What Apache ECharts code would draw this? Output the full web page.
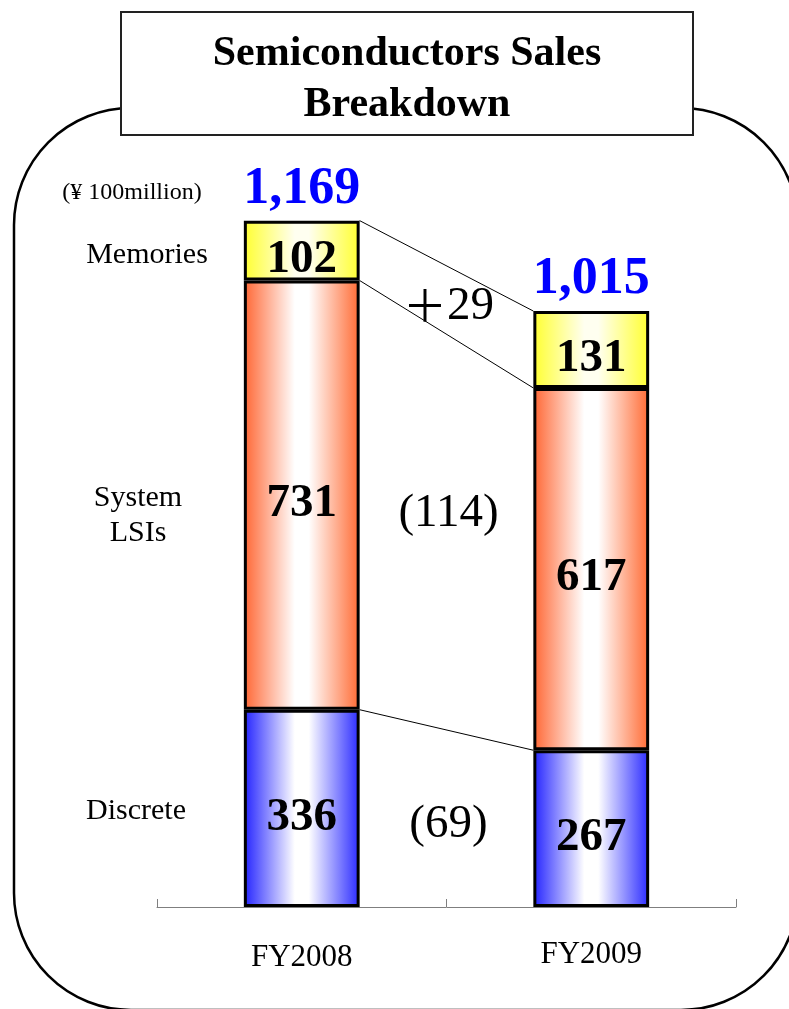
<!DOCTYPE html>
<html>
<head>
<meta charset="utf-8">
<script src="https://cdn.jsdelivr.net/npm/echarts@6/dist/echarts.min.js"></script>
<style>
  html, body { margin: 0; padding: 0; background: #ffffff; }
  #chart { width: 789px; height: 1009px; }
</style>
</head>
<body>
<div id="chart"></div>
<script>
// Fiscal years and sales by product line (unit: ¥100 million)
const years = ['FY2008', 'FY2009'];
const segmentNames = ['Discrete', 'System LSIs', 'Memories'];
const discrete = [336, 267];
const systemLSIs = [731, 617];
const memories = [102, 131];
const unitLabel = '(¥ 100million)';
const titleText = 'Semiconductors Sales\nBreakdown';

const segments = [discrete, systemLSIs, memories];
const totals = years.map((_, i) => segments.reduce((s, arr) => s + arr[i], 0));

// Layout / style constants
const SERIF = '"Liberation Serif", "Times New Roman", serif';
const CJK = '"Noto Sans CJK JP", "Noto Sans CJK SC", sans-serif';
const BAR_RATIO = 0.40;
const GRID = { left: 157, right: 53, top: 85, bottom: 102 };
const Y_MAX = 1400;
const diffNudgeY = [6, -18, 7];
const sideLabelNudgeY = [3, 21, 5];
const sideLabelX = [136, 138, 147];

const gradients = [
  ['#2222ff', '#2a2aff'],
  ['#ff6633', '#ff6a33'],
  ['#ffff30', '#ffff30']
];
const gradientCenter = ['#ffffff', '#ffffff', '#fffff0'];

function fillFor(k) {
  const c = gradients[k];
  return new echarts.graphic.LinearGradient(0, 0, 1, 0, [
    { offset: 0, color: c[0] },
    { offset: 0.44, color: gradientCenter[k] },
    { offset: 0.56, color: gradientCenter[k] },
    { offset: 1, color: c[1] }
  ]);
}

function fmtDiff(d) {
  return d >= 0 ? '{p|＋}' + d : '(' + Math.abs(d) + ')';
}

// Per-segment cumulative bounds for the connector lines and change labels
const connectorData = segments.map((arr, k) => {
  const below = segments.slice(0, k);
  const b1 = below.reduce((s, a) => s + a[0], 0);
  const b2 = below.reduce((s, a) => s + a[1], 0);
  return [0, b1, b1 + arr[0], b2, b2 + arr[1], arr[1] - arr[0], k];
});

const chart = echarts.init(document.getElementById('chart'));

const barSeries = segments.map((arr, k) => ({
  name: segmentNames[k],
  type: 'bar',
  stack: 'sales',
  barWidth: (BAR_RATIO * 100) + '%',
  data: arr,
  z: 3,
  itemStyle: { color: fillFor(k), borderColor: '#000', borderWidth: 3 },
  label: {
    show: true,
    position: 'inside',
    offset: [0, 9],
    fontFamily: SERIF,
    fontWeight: 'bold',
    fontSize: 47,
    color: '#000'
  }
}));

const option = {
  backgroundColor: '#ffffff',
  animation: false,
  title: {
    text: titleText,
    left: 407,
    top: 29,
    textAlign: 'center',
    padding: 0,
    z: 10,
    textStyle: {
      fontFamily: SERIF,
      fontWeight: 'bold',
      fontSize: 42,
      lineHeight: 51,
      color: '#000'
    }
  },
  grid: GRID,
  xAxis: {
    type: 'category',
    data: years,
    boundaryGap: true,
    axisLine: { lineStyle: { color: '#7f7f7f', width: 1 } },
    axisTick: { show: true, inside: true, length: 8, lineStyle: { color: '#7f7f7f' } },
    axisLabel: {
      margin: 33,
      fontFamily: SERIF,
      fontSize: 31,
      lineHeight: 31,
      color: '#000',
      formatter: (v, i) => i === 1 ? '{b|' + v + '}' : '{a|' + v + '}',
      rich: {
        a: { fontFamily: SERIF, fontSize: 31, lineHeight: 31, color: '#000', padding: [4, 0, 0, 0] },
        b: { fontFamily: SERIF, fontSize: 31, lineHeight: 31, color: '#000', padding: [0, 0, 2, 0] }
      }
    },
    splitLine: { show: false }
  },
  yAxis: {
    type: 'value',
    min: 0,
    max: Y_MAX,
    show: false,
    splitLine: { show: false }
  },
  series: [
    ...barSeries,
    {
      name: 'Total',
      type: 'scatter',
      data: totals,
      symbolSize: 0,
      itemStyle: { opacity: 1 },
      z: 5,
      label: {
        show: true,
        position: 'top',
        distance: 5,
        formatter: p => p.value.toLocaleString('en-US'),
        fontFamily: SERIF,
        fontWeight: 'bold',
        fontSize: 52,
        color: '#0000ff',
        opacity: 1
      }
    },
    {
      name: 'Change',
      type: 'custom',
      data: connectorData,
      encode: { x: 0, y: [1, 2, 3, 4] },
      z: 2,
      renderItem: (params, api) => {
        const t1 = api.value(2), t2 = api.value(4);
        const b1 = api.value(1), b2 = api.value(3);
        const k = api.value(6);
        const p1 = api.coord([0, t1]);
        const p2 = api.coord([1, t2]);
        const half = api.size([1, 0])[0] * BAR_RATIO / 2;
        const c1 = api.coord([0, (b1 + t1) / 2])[1];
        const c2 = api.coord([1, (b2 + t2) / 2])[1];
        return {
          type: 'group',
          children: [
            {
              type: 'line',
              shape: { x1: p1[0] + half, y1: p1[1], x2: p2[0] - half, y2: p2[1] },
              style: { stroke: '#000', lineWidth: 1 }
            },
            {
              type: 'text',
              x: (p1[0] + p2[0]) / 2 + 2,
              y: (c1 + c2) / 2 + diffNudgeY[k],
              style: {
                text: fmtDiff(api.value(5)),
                fontFamily: SERIF,
                fontSize: 47,
                fill: '#000',
                align: 'center',
                verticalAlign: 'middle',
                rich: {
                  p: { fontFamily: CJK, fontSize: 44, fill: '#000', padding: [0, 0, 4, 0] }
                }
              }
            }
          ]
        };
      }
    }
  ]
};

chart.setOption(option);

// Frame, title box and side labels
const graphics = [
  {
    type: 'rect',
    z: 0,
    shape: { x: 14, y: 108, width: 784, height: 902, r: 117 },
    style: { fill: 'none', stroke: '#000', lineWidth: 2.5 }
  },
  {
    type: 'rect',
    z: 1,
    shape: { x: 121, y: 12, width: 572, height: 123 },
    style: { fill: '#ffffff', stroke: '#222', lineWidth: 2 }
  },
  {
    type: 'text',
    z: 2,
    x: 132,
    y: 193,
    style: {
      text: unitLabel,
      fontFamily: SERIF,
      fontSize: 24,
      fill: '#000',
      align: 'center',
      verticalAlign: 'middle'
    }
  }
];

segments.forEach((arr, k) => {
  const below = segments.slice(0, k).reduce((s, a) => s + a[0], 0);
  const y = chart.convertToPixel({ xAxisIndex: 0, yAxisIndex: 0 }, [0, below + arr[0] / 2])[1];
  graphics.push({
    type: 'text',
    z: 2,
    x: sideLabelX[k],
    y: y + sideLabelNudgeY[k],
    style: {
      text: segmentNames[k].replace(' ', '\n'),
      fontFamily: SERIF,
      fontSize: 30,
      lineHeight: 35,
      fill: '#000',
      align: 'center',
      verticalAlign: 'middle'
    }
  });
});

chart.setOption({ graphic: graphics });
</script>
</body>
</html>
